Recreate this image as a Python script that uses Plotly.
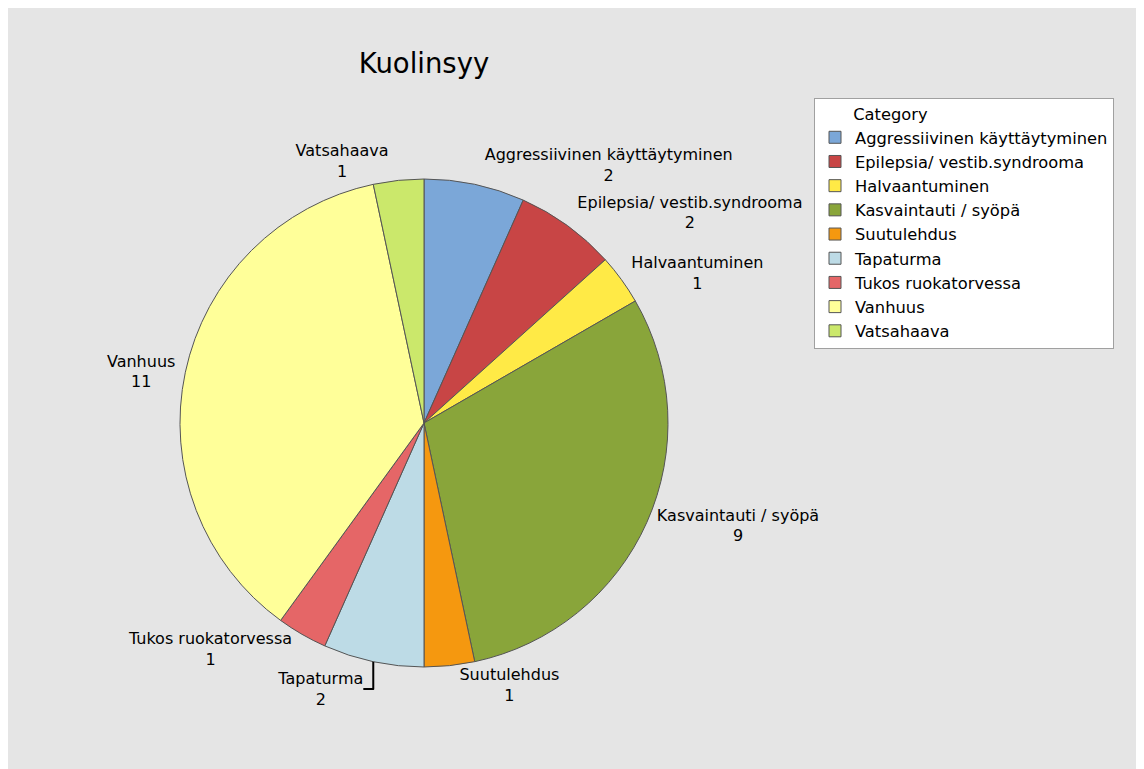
import plotly.graph_objects as go

# Data
categories = ['Aggressiivinen käyttäytyminen', 'Epilepsia/ vestib.syndrooma', 'Halvaantuminen',
              'Kasvaintauti / syöpä', 'Suutulehdus', 'Tapaturma', 'Tukos ruokatorvessa',
              'Vanhuus', 'Vatsahaava']
counts = [2, 2, 1, 9, 1, 2, 1, 11, 1]
colors = ['#7ba7d8', '#c84545', '#ffea46', '#89a53a', '#f5980f',
          '#bddbe6', '#e56667', '#ffff99', '#cbe86b']

W, H = 1144, 769
font_name = "DejaVu Sans"

# pie centre / size in figure pixels (page has an 8px body margin)
cx, cy, half = 416, 415, 244

fig = go.Figure(go.Pie(
    labels=categories,
    values=counts,
    sort=False,
    direction='clockwise',
    rotation=0,
    marker=dict(colors=colors, line=dict(color='#555555', width=1)),
    textposition='outside',
    texttemplate='%{label}<br>%{value}',
    textfont=dict(family=font_name, size=16, color='black'),
    domain=dict(x=[(cx - half) / W, (cx + half) / W],
                y=[1 - (cy + half) / H, 1 - (cy - half) / H]),
    showlegend=True,
))

fig.update_layout(
    width=W, height=H,
    margin=dict(l=0, r=0, t=0, b=0),
    paper_bgcolor='#e5e5e5',
    font=dict(family=font_name, size=16, color='black'),
    title=dict(text='Kuolinsyy', x=416 / W, xanchor='center', y=1 - 55 / H, yanchor='middle',
               font=dict(family=font_name, size=27.5, color='black')),
    legend=dict(title=dict(text='\u00a0' * 7 + 'Category', font=dict(size=16.3)),
                x=806 / W, xanchor='left', y=1 - 90 / H, yanchor='top',
                bgcolor='white', bordercolor='#a0a0a0', borderwidth=1,
                font=dict(family=font_name, size=16.3), tracegroupgap=0),
)

fig.write_html("out.html")
